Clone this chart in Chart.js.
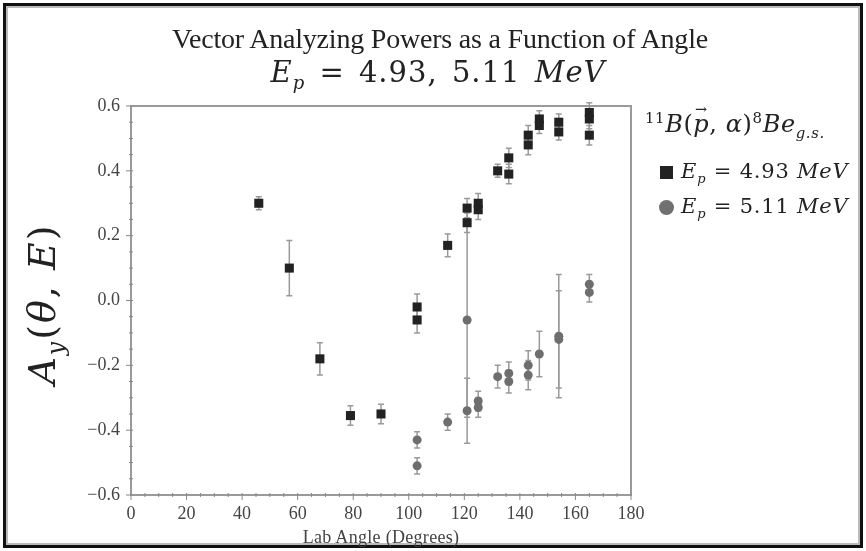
<!DOCTYPE html>
<html lang="en">
<head>
    <meta charset="UTF-8">
    <title>Vector Analyzing Powers as a Function of Angle</title>
    <script src="https://cdn.jsdelivr.net/npm/chart.js@4.4.1/dist/chart.umd.min.js"></script>
    <style>
        body { margin: 0; background: #fff; }
        #wrap { position: relative; width: 866px; height: 551px; overflow: hidden; font-family: "Liberation Serif", "DejaVu Serif", serif; color: #222; }
        #frame { position: absolute; left: 3px; top: 3px; width: 854px; height: 539px; border: 3px solid #111; box-shadow: inset 0 0 0 2px #bbb; pointer-events: none; }
        canvas { position: absolute; left: 0; top: 0; }
        .txt { position: absolute; white-space: nowrap; }
        .math { font-family: "DejaVu Serif", serif; }
        .m { font-style: italic; }
        sub, sup { font-size: 62%; line-height: 0; }
        .vec { position: relative; }
        .vec b { position: absolute; left: 0.12em; top: -0.62em; font-size: 0.6em; font-weight: normal; font-style: normal; }
    </style>
</head>
<body>
<div id="wrap">
    <canvas id="chart" width="866" height="551"></canvas>
    <div id="frame"></div>

    <div class="txt" style="left:0; width:880px; text-align:center; top:23px; font-size:28px; letter-spacing:-0.2px;">Vector Analyzing Powers as a Function of Angle</div>
    <div class="txt math" style="left:0; width:876px; text-align:center; top:55px; font-size:29px; letter-spacing:1px; word-spacing:4px;"><span class="m">E<sub>p</sub></span> = 4.93, 5.11 <span class="m">MeV</span></div>

    <div class="txt math" style="left:42px; top:304px; font-size:38px; letter-spacing:2px; transform: translate(-50%, -50%) rotate(-90deg);"><span class="m">A<sub>y</sub></span>(<span class="m">θ</span>, <span class="m">E</span>)</div>

    <div class="txt" style="left:0; width:762px; text-align:center; top:527px; font-size:18px; letter-spacing:0.3px; color:#444;">Lab Angle (Degrees)</div>

    <div class="txt math" style="left:645px; top:110px; font-size:24px; letter-spacing:0.6px;"><sup>11</sup><span class="m">B</span>(<span class="m vec">p<b>→</b></span>, <span class="m">α</span>)<sup>8</sup><span class="m">Be<sub>g.s.</sub></span></div>
    <div class="txt math" style="left:660px; top:159px; font-size:21px; letter-spacing:0.8px;"><span style="display:inline-block; width:13px; height:13px; background:#222; margin-right:8px; vertical-align:-1px;"></span><span class="m">E<sub>p</sub></span> = 4.93 <span class="m">MeV</span></div>
    <div class="txt math" style="left:659px; top:194px; font-size:21px; letter-spacing:0.8px;"><span style="display:inline-block; width:15px; height:15px; border-radius:50%; background:#707070; margin-right:7px; vertical-align:-2px;"></span><span class="m">E<sub>p</sub></span> = 5.11 <span class="m">MeV</span></div>
</div>

<script>
// data
const angles493 = [46, 57, 68, 79, 90, 103, 103, 114, 121, 121, 125, 125, 132, 136, 136, 143, 143, 147, 147, 154, 154, 165, 165, 165];
const ay493 = [0.30, 0.10, -0.18, -0.355, -0.35, -0.02, -0.06, 0.17, 0.285, 0.24, 0.30, 0.28, 0.40, 0.44, 0.39, 0.51, 0.48, 0.56, 0.54, 0.55, 0.52, 0.58, 0.56, 0.51];
const err493 = [0.02, 0.085, 0.05, 0.03, 0.03, 0.04, 0.04, 0.035, 0.03, 0.03, 0.03, 0.03, 0.02, 0.03, 0.03, 0.03, 0.03, 0.025, 0.025, 0.025, 0.025, 0.03, 0.03, 0.03];

const angles511 = [103, 103, 114, 121, 121, 125, 125, 132, 136, 136, 143, 143, 147, 154, 154, 165, 165];
const ay511 = [-0.43, -0.51, -0.375, -0.06, -0.34, -0.31, -0.33, -0.235, -0.225, -0.25, -0.20, -0.23, -0.165, -0.12, -0.11, 0.05, 0.025];
const err511 = [0.025, 0.025, 0.025, 0.30, 0.10, 0.03, 0.03, 0.035, 0.035, 0.035, 0.045, 0.045, 0.07, 0.15, 0.19, 0.03, 0.03];

const xTicks = [0, 20, 40, 60, 80, 100, 120, 140, 160, 180];
const yTicks = [-0.6, -0.4, -0.2, 0.0, 0.2, 0.4, 0.6];

const pts = (xs, ys) => xs.map((x, i) => ({ x: x, y: ys[i] }));

// error bars + box + minor ticks
const extras = {
    id: 'extras',
    beforeDatasetsDraw(chart) {
        const ctx = chart.ctx, xs = chart.scales.x, ys = chart.scales.y;
        ctx.save();
        ctx.strokeStyle = '#9a9a9a';
        ctx.lineWidth = 1.5;
        chart.data.datasets.forEach(ds => {
            ds.data.forEach((p, i) => {
                const e = ds.errors[i];
                const px = xs.getPixelForValue(p.x);
                const top = ys.getPixelForValue(p.y + e), bot = ys.getPixelForValue(p.y - e);
                ctx.beginPath();
                ctx.moveTo(px, top); ctx.lineTo(px, bot);
                ctx.moveTo(px - 3, top); ctx.lineTo(px + 3, top);
                ctx.moveTo(px - 3, bot); ctx.lineTo(px + 3, bot);
                ctx.stroke();
            });
        });
        ctx.restore();
    },
    afterDraw(chart) {
        const ctx = chart.ctx, a = chart.chartArea, xs = chart.scales.x, ys = chart.scales.y;
        ctx.save();
        ctx.strokeStyle = '#9a9a9a';
        ctx.lineWidth = 2;
        ctx.strokeRect(a.left, a.top, a.right - a.left, a.bottom - a.top);
        ctx.lineWidth = 1;
        ctx.strokeStyle = '#888';
        ctx.beginPath();
        for (let v = 0; v <= 180; v += 5) {
            const px = xs.getPixelForValue(v);
            const major = v % 20 === 0;
            ctx.moveTo(px, a.bottom + (major ? 5 : 2));
            ctx.lineTo(px, a.bottom - 2);
        }
        for (let k = -12; k <= 12; k++) {
            const py = ys.getPixelForValue(k * 0.05);
            const major = k % 4 === 0;
            ctx.moveTo(a.left - (major ? 5 : 2), py);
            ctx.lineTo(a.left + 2, py);
        }
        ctx.stroke();
        ctx.restore();
    }
};

new Chart(document.getElementById('chart').getContext('2d'), {
    type: 'scatter',
    data: {
        datasets: [{
            label: 'Ep = 4.93 MeV',
            data: pts(angles493, ay493),
            errors: err493,
            pointStyle: 'rect',
            pointRadius: 6.4,
            backgroundColor: '#222',
            borderWidth: 0
        }, {
            label: 'Ep = 5.11 MeV',
            data: pts(angles511, ay511),
            errors: err511,
            pointStyle: 'circle',
            pointRadius: 4.5,
            backgroundColor: '#6e6e6e',
            borderWidth: 0
        }]
    },
    options: {
        responsive: false,
        animation: false,
        layout: { padding: { left: 0, top: 106, right: 235, bottom: 26 } },
        plugins: { legend: { display: false }, tooltip: { enabled: false } },
        scales: {
            x: {
                type: 'linear', min: 0, max: 180,
                afterBuildTicks: s => { s.ticks = xTicks.map(v => ({ value: v })); },
                afterFit: s => { s.height = 30; },
                grid: { display: false },
                border: { display: false },
                ticks: { color: '#444', padding: 0, font: { family: 'Liberation Serif', size: 18 } }
            },
            y: {
                type: 'linear', min: -0.6, max: 0.6,
                afterBuildTicks: s => { s.ticks = yTicks.map(v => ({ value: v })); },
                afterFit: s => { s.width = 131; },
                grid: { display: false },
                border: { display: false },
                ticks: {
                    color: '#444', padding: 3, font: { family: 'Liberation Serif', size: 18 },
                    callback: v => (v < 0 ? '\u2212' : '') + Math.abs(v).toFixed(1)
                }
            }
        }
    },
    plugins: [extras]
});
</script>
</body>
</html>
